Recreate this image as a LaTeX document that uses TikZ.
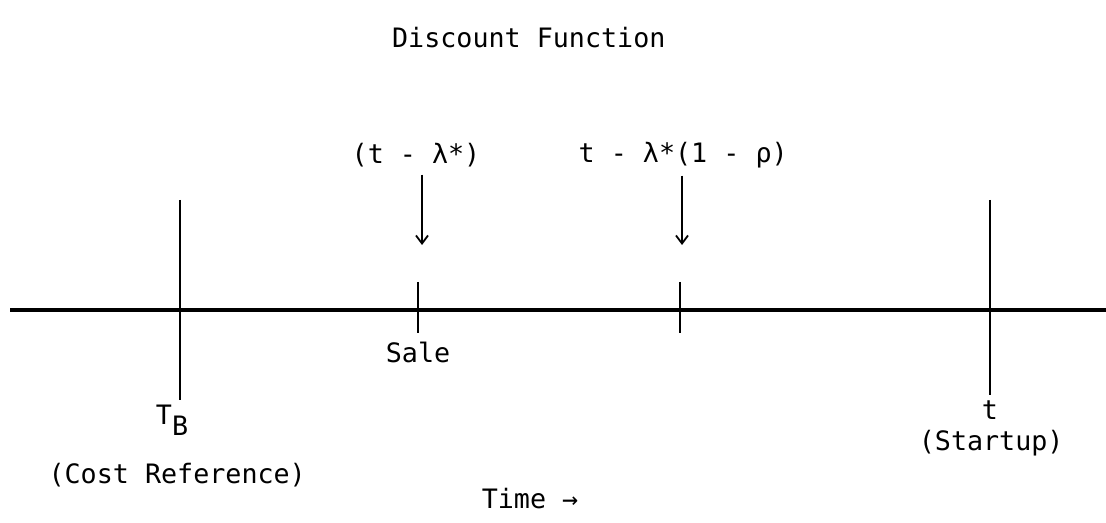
\documentclass[tikz,border=0pt]{standalone}
\usepackage{fontspec}
\setmonofont{DejaVu Sans Mono}
\usetikzlibrary{arrows.meta}

\begin{document}
\begin{tikzpicture}[
  lbl/.style={font=\ttfamily\fontsize{19}{23}\selectfont, inner sep=1pt},
  axisline/.style={line width=2.4pt},
  mark line/.style={line width=1.6pt},
  arr/.style={-{Straight Barb[length=2mm,width=3mm]}, line width=1.3pt}
]
\useasboundingbox (0,0) rectangle (27.65,13.075);
% Achse
\coordinate (axL) at (0.25,5.325);
\coordinate (axR) at (27.65,5.325);
\draw[axisline] (axL) -- (axR);
% lange Striche
\coordinate (tbTop) at (4.5,8.075);
\coordinate (tbBot) at (4.5,3.075);
\coordinate (stTop) at (24.75,8.075);
\coordinate (stBot) at (24.75,3.2);
\draw[mark line] (tbTop) -- (tbBot);
\draw[mark line] (stTop) -- (stBot);
% kurze Striche
\coordinate (saTop) at (10.45,6.025);
\coordinate (saBot) at (10.45,4.75);
\coordinate (rhTop) at (17.0,6.025);
\coordinate (rhBot) at (17.0,4.75);
\draw[mark line] (saTop) -- (saBot);
\draw[mark line] (rhTop) -- (rhBot);

\node[lbl] (title) at (13.22,12.125) {Discount Function};
\node[lbl] (lam) at (10.4,9.2) {(t - λ*)};
\node[lbl] (lamrho) at (17.08,9.2) {t - λ*(1 - ρ)};
\coordinate (lamTip) at (10.55,6.95);
\coordinate (lamrhoTip) at (17.05,6.95);
\draw[arr] (lam.south -| lamTip) ++(0,-0.15) -- (lamTip);
\draw[arr] (lamrho.south -| lamrhoTip) ++(0,-0.15) -- (lamrhoTip);

\node[lbl] (sale) at (10.45,4.275) {Sale};
\node[lbl] (tb) at (4.3,2.575) {T\raisebox{-0.75ex}{B}};
\node[lbl] (cost) at (4.43,1.2) {(Cost Reference)};
\node[lbl, inner sep=0pt] (t) at (24.75,2.82) {t};
\node[lbl, inner sep=0pt] (startup) at (24.78,2.0) {(Startup)};
\node[lbl] (time) at (13.25,0.6) {Time →};
\end{tikzpicture}
\end{document}
